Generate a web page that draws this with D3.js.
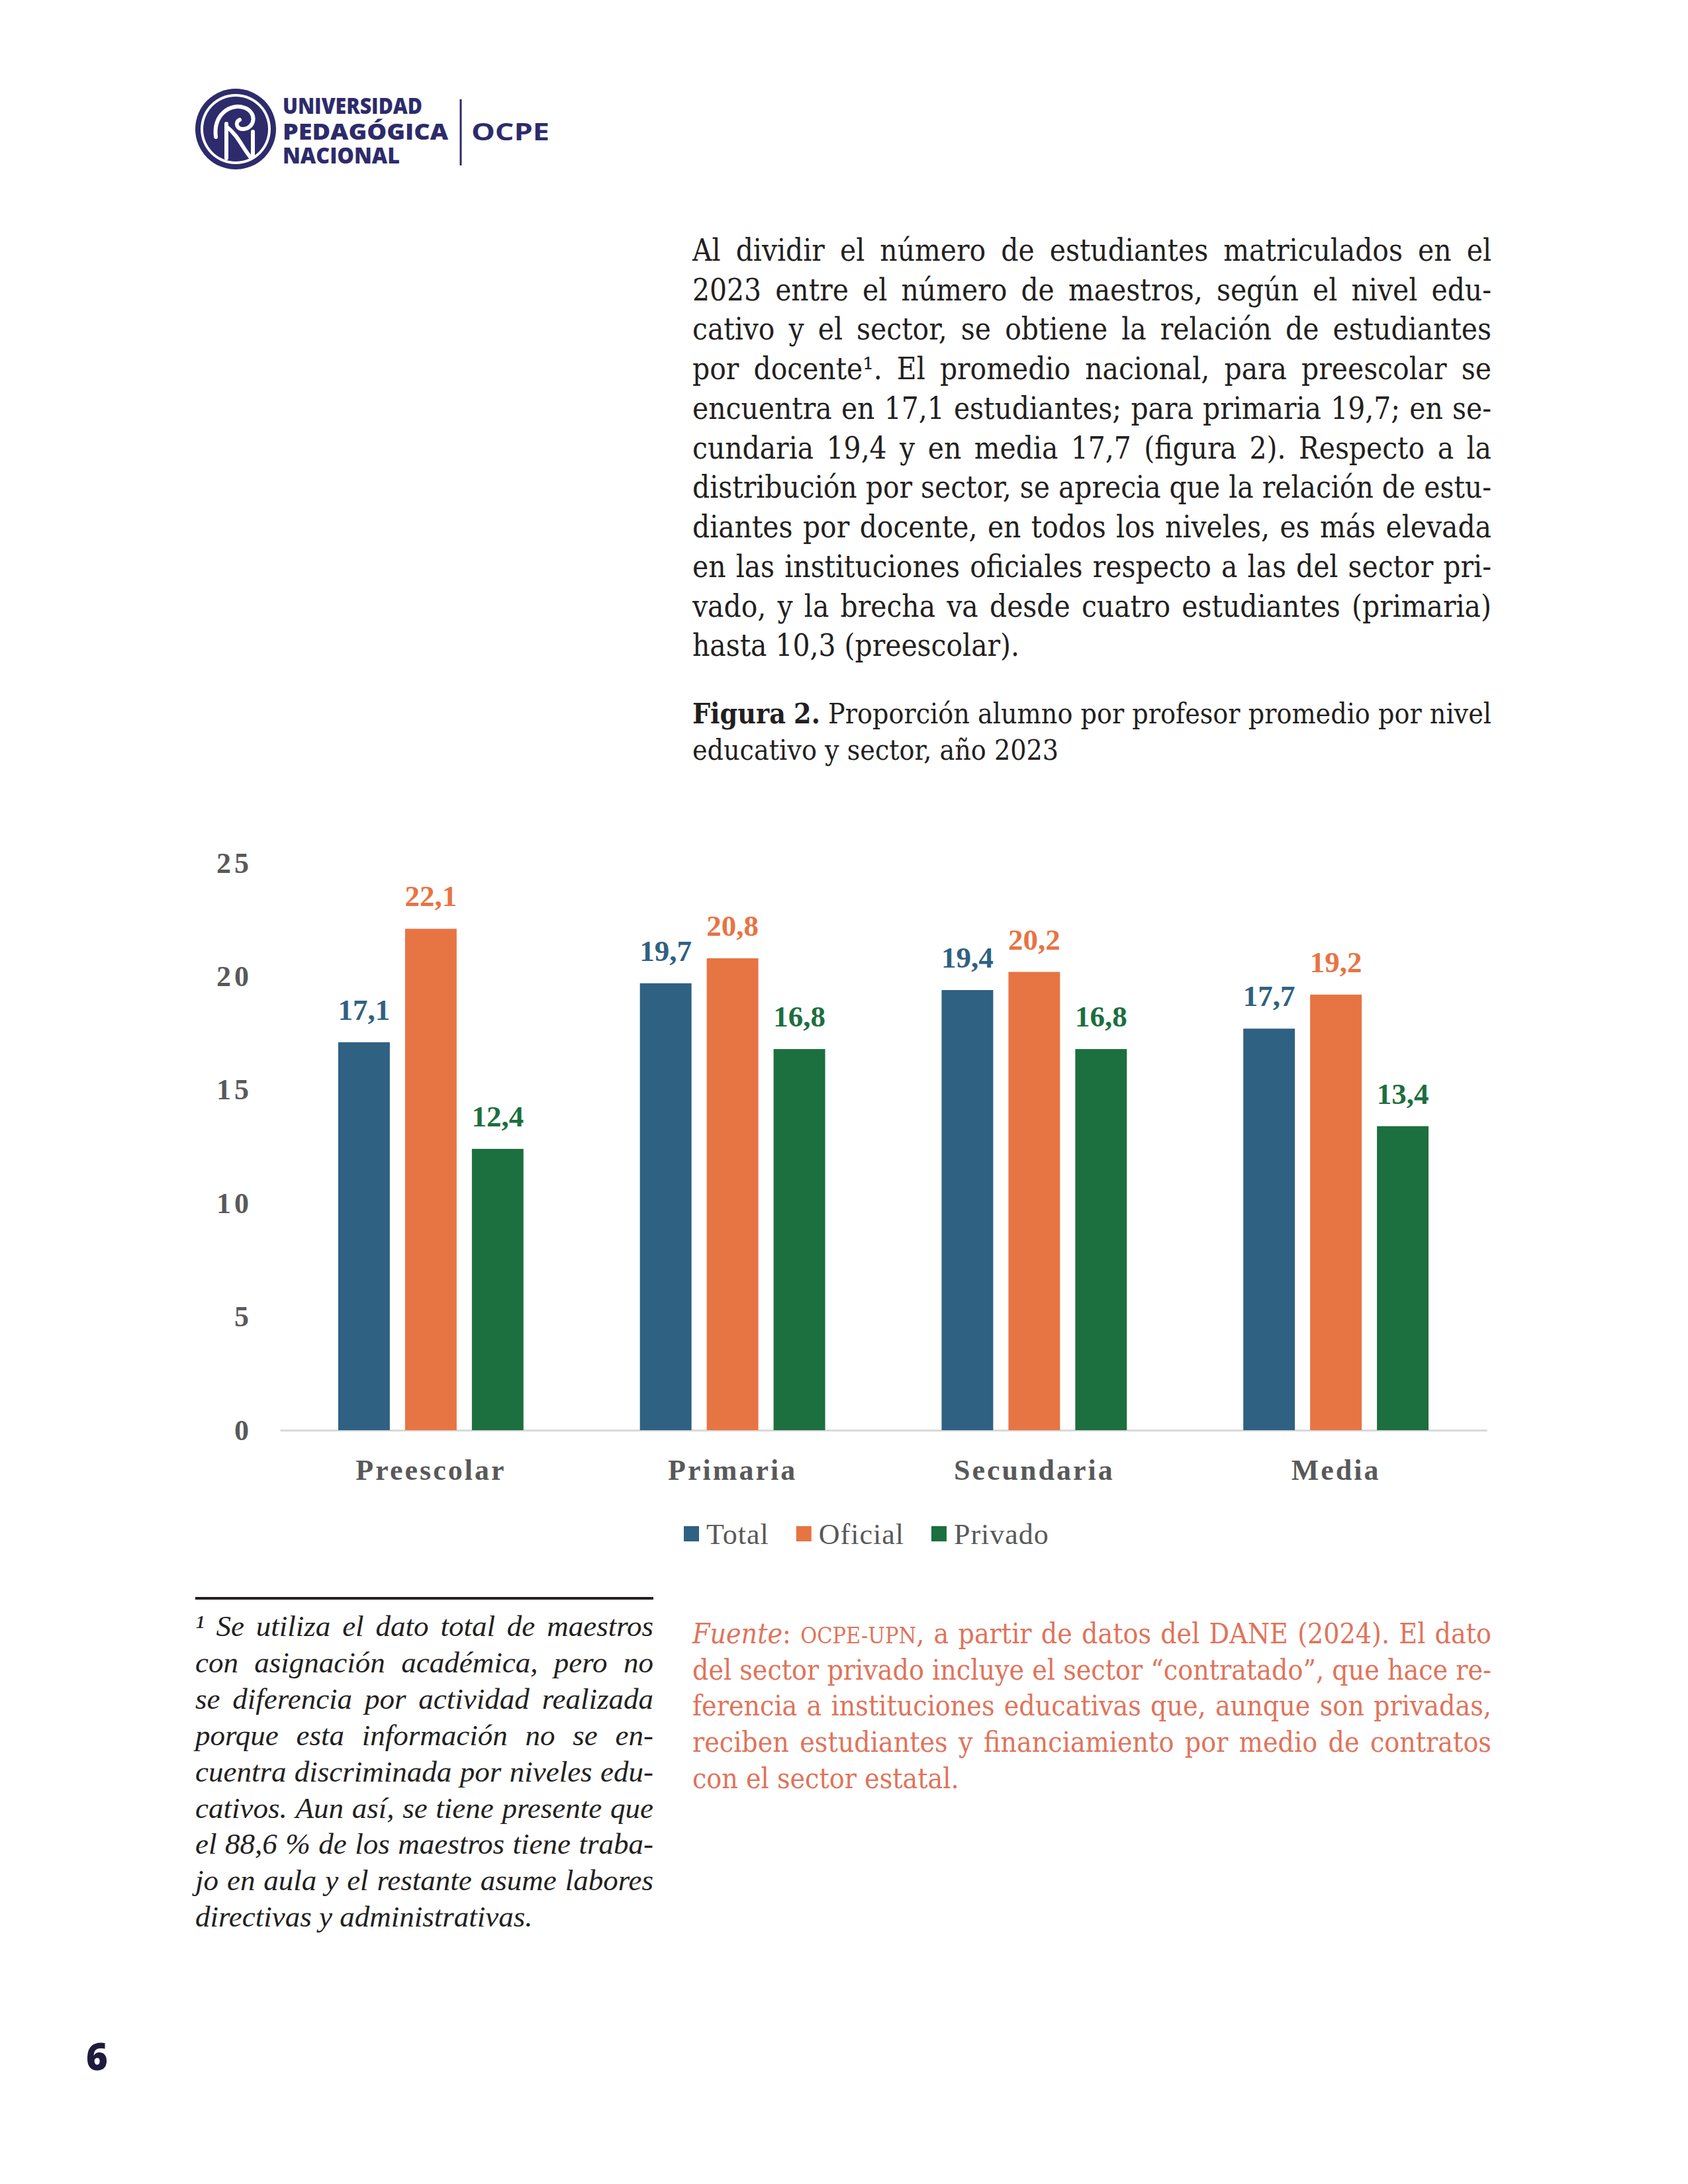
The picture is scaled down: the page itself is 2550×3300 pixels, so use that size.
<!DOCTYPE html>
<html>
<head>
<meta charset="utf-8">
<script src="https://cdn.jsdelivr.net/npm/d3@7"></script>
<style>
html, body { margin: 0; padding: 0; background: #fff; }
svg { display: block; }
</style>
</head>
<body>
<div id="page"></div>
<script>
var levels = ["Preescolar", "Primaria", "Secundaria", "Media"];
var series = ["Total", "Oficial", "Privado"];
var total = [17.1, 19.7, 19.4, 17.7];
var oficial = [22.1, 20.8, 20.2, 19.2];
var privado = [12.4, 16.8, 16.8, 13.4];
var yTicks = [0, 5, 10, 15, 20, 25];

// page text (_ italic, # bold, ^ small caps)
var bodyLines = [
    "Al dividir el número de estudiantes matriculados en el",
    "2023 entre el número de maestros, según el nivel edu-",
    "cativo y el sector, se obtiene la relación de estudiantes",
    "por docente¹. El promedio nacional, para preescolar se",
    "encuentra en 17,1 estudiantes; para primaria 19,7; en se-",
    "cundaria 19,4 y en media 17,7 (figura 2). Respecto a la",
    "distribución por sector, se aprecia que la relación de estu-",
    "diantes por docente, en todos los niveles, es más elevada",
    "en las instituciones oficiales respecto a las del sector pri-",
    "vado, y la brecha va desde cuatro estudiantes (primaria)",
    "hasta 10,3 (preescolar)."
];
var captionLines = [
    "#Figura 2.# Proporción alumno por profesor promedio por nivel",
    "educativo y sector, año 2023"
];
var footLines = [
    "¹ Se utiliza el dato total de maestros",
    "con asignación académica, pero no",
    "se diferencia por actividad realizada",
    "porque esta información no se en-",
    "cuentra discriminada por niveles edu-",
    "cativos. Aun así, se tiene presente que",
    "el 88,6 % de los maestros tiene traba-",
    "jo en aula y el restante asume labores",
    "directivas y administrativas."
];
var sourceLines = [
    "_Fuente_: ^ocpe-upn^, a partir de datos del DANE (2024). El dato",
    "del sector privado incluye el sector “contratado”, que hace re-",
    "ferencia a instituciones educativas que, aunque son privadas,",
    "reciben estudiantes y financiamiento por medio de contratos",
    "con el sector estatal."
];

var svgWidth = 2550;
var svgHeight = 3300;

var svg = d3.select("#page")
    .append("svg")
    .attr("width", svgWidth)
    .attr("height", svgHeight);

svg.append("rect")
    .attr("width", svgWidth)
    .attr("height", svgHeight)
    .attr("fill", "#fff");

var colors = { Total: "#2f6182", Oficial: "#e77443", Privado: "#1c6f3e" };
var navy = "#2d2b6b";
var ink = "#231f20";
var gray = "#595959";
var chartFont = "'Liberation Serif', 'Times New Roman', serif";
var bookFont = "'DejaVu Serif Condensed', 'DejaVu Serif', serif";

// ---------- header logo ----------
var logo = svg.append("g").attr("transform", "translate(356, 195)");
logo.append("circle").attr("r", 61).attr("fill", navy);
logo.append("circle").attr("r", 53).attr("fill", "#fff");
logo.append("circle").attr("r", 49).attr("fill", navy);
logo.append("path")
    .attr("d", "M-30,12 C-34,-22 -8,-40 14,-32 C32,-25 30,-2 12,0 C2,1 -2,-10 6,-14")
    .attr("fill", "none").attr("stroke", "#fff").attr("stroke-width", 6).attr("stroke-linecap", "round");
logo.append("path")
    .attr("d", "M-14,-8 L-14,44 M-14,-4 C4,10 10,28 22,42 M26,4 L26,40")
    .attr("fill", "none").attr("stroke", "#fff").attr("stroke-width", 6).attr("stroke-linecap", "round");

var logoText = [
    { t: "UNIVERSIDAD", y: 172, w: 211 },
    { t: "PEDAGÓGICA", y: 211, w: 250 },
    { t: "NACIONAL", y: 247, w: 177 }
];
logoText.forEach(function(d) {
    svg.append("text")
        .attr("x", 427).attr("y", d.y)
        .attr("font-family", "'Open Sans', sans-serif")
        .attr("font-weight", 800)
        .attr("font-size", 34)
        .attr("fill", navy)
        .attr("textLength", d.w)
        .attr("lengthAdjust", "spacingAndGlyphs")
        .text(d.t);
});
svg.append("line")
    .attr("x1", 696).attr("x2", 696).attr("y1", 150).attr("y2", 250)
    .attr("stroke", navy).attr("stroke-width", 3);
svg.append("text")
    .attr("x", 712).attr("y", 212)
    .attr("font-family", "'Open Sans', sans-serif")
    .attr("font-weight", 700)
    .attr("font-size", 36)
    .attr("fill", navy)
    .attr("textLength", 118)
    .attr("lengthAdjust", "spacingAndGlyphs")
    .text("OCPE");

// ---------- justified text blocks ----------
function parseWords(line, state) {
    var words = [];
    line.split(" ").forEach(function(w) {
        var segs = [], cur = "";
        for (var ch of w) {
            if (ch === "_" || ch === "#" || ch === "^") {
                if (cur) segs.push({ t: cur, i: state.i, b: state.b, sc: state.sc });
                cur = "";
                if (ch === "_") state.i = !state.i;
                if (ch === "#") state.b = !state.b;
                if (ch === "^") state.sc = !state.sc;
            } else {
                cur += ch;
            }
        }
        if (cur) segs.push({ t: cur, i: state.i, b: state.b, sc: state.sc });
        words.push({ segs: segs });
    });
    return words;
}

function textBlock(opt) {
    var g = svg.append("g")
        .attr("transform", `translate(${opt.x}, ${opt.y})`)
        .attr("font-family", opt.family)
        .attr("font-size", opt.size)
        .attr("font-style", opt.italic ? "italic" : "normal")
        .attr("fill", opt.fill)
        .style("font-stretch", opt.stretch || "normal");
    var inner = g.append("g");
    var state = { i: false, b: false, sc: false };
    var rows = opt.lines.map(function(l) { return parseWords(l, state); });

    rows.forEach(function(words, r) {
        words.forEach(function(w) {
            var t = inner.append("text").attr("y", r * opt.lh);
            w.segs.forEach(function(s) {
                var ts = t.append("tspan").text(s.sc ? s.t.toUpperCase() : s.t);
                if (s.i) ts.attr("font-style", "italic");
                if (s.b) ts.attr("font-weight", "bold");
                if (s.sc) ts.attr("font-size", opt.size * 0.8);
            });
            w.node = t;
            w.w = t.node().getComputedTextLength();
        });
    });

    var probe = inner.append("text").text("a a");
    var probe2 = inner.append("text").text("aa");
    var space = probe.node().getComputedTextLength() - probe2.node().getComputedTextLength();
    probe.remove(); probe2.remove();

    // horizontal squeeze so that every full line fits
    var k = 1;
    rows.forEach(function(words, r) {
        if (r === rows.length - 1) return;
        var nat = d3.sum(words, function(d) { return d.w; }) + (words.length - 1) * space;
        k = Math.min(k, opt.width / nat);
    });
    inner.attr("transform", `scale(${k}, 1)`);
    var W = opt.width / k;

    rows.forEach(function(words, r) {
        var sum = d3.sum(words, function(d) { return d.w; });
        var gap = r < rows.length - 1 ? (W - sum) / (words.length - 1) : space;
        var cx = 0;
        words.forEach(function(w) {
            w.node.attr("x", cx);
            cx += w.w + gap;
        });
    });
}

textBlock({ lines: bodyLines, x: 1046, y: 394, width: 1207, lh: 59.75,
    family: bookFont, size: 46, fill: ink, stretch: "condensed" });
textBlock({ lines: captionLines, x: 1046, y: 1093, width: 1207, lh: 55,
    family: bookFont, size: 43, fill: ink, stretch: "condensed" });
textBlock({ lines: footLines, x: 295, y: 2472, width: 692, lh: 54.9,
    family: chartFont, size: 45, fill: ink, italic: true });
textBlock({ lines: sourceLines, x: 1046, y: 2483, width: 1207, lh: 54.7,
    family: bookFont, size: 43, fill: "#e0735a", stretch: "condensed" });

// footnote rule
svg.append("line")
    .attr("x1", 295).attr("x2", 987).attr("y1", 2415).attr("y2", 2415)
    .attr("stroke", ink).attr("stroke-width", 4);

// page number
svg.append("text")
    .attr("x", 130).attr("y", 3128)
    .attr("font-family", "'Open Sans', sans-serif")
    .attr("font-weight", 800)
    .attr("font-size", 56)
    .attr("fill", "#1e1c3c")
    .text("6");

// ---------- chart ----------
var margin = { top: 1304, left: 423 };
var width = 2246 - 423;
var height = 2161 - 1304;

var chartGroup = svg.append("g")
    .attr("transform", `translate(${margin.left}, ${margin.top})`);

var rows = levels.map(function(l, i) {
    return { level: l, values: [
        { key: "Total", v: total[i] },
        { key: "Oficial", v: oficial[i] },
        { key: "Privado", v: privado[i] }
    ] };
});

var x0 = d3.scaleBand().domain(levels).range([0, width]);
var x1 = d3.scaleBand().domain(series)
    .range([x0.bandwidth() * 0.193, x0.bandwidth() * 0.807])
    .paddingInner(0.228);
var yLinearScale = d3.scaleLinear().domain([0, 25]).range([height, 0]);

var es = d3.formatLocale({ decimal: ",", thousands: ".", grouping: [3], currency: ["$", ""] });
var fmt = es.format(".1f");

// y axis: labels only
var yAxis = chartGroup.append("g")
    .call(d3.axisLeft(yLinearScale).tickValues(yTicks).tickSize(0).tickPadding(42).tickFormat(d3.format("d")));
yAxis.select(".domain").remove();
yAxis.attr("font-family", chartFont).attr("font-size", 44);
yAxis.selectAll("text")
    .attr("font-weight", "bold")
    .attr("fill", gray)
    .attr("letter-spacing", 5);

// x axis
var xAxis = chartGroup.append("g")
    .attr("transform", `translate(0, ${height})`)
    .call(d3.axisBottom(x0).tickSize(0).tickSizeOuter(0).tickPadding(44));
xAxis.attr("font-family", chartFont).attr("font-size", 44);
xAxis.select(".domain").attr("stroke", "#d9d9d9").attr("stroke-width", 3);
xAxis.selectAll("text")
    .attr("font-weight", "bold")
    .attr("fill", gray)
    .attr("letter-spacing", 3);

// bars
var groups = chartGroup.selectAll(".level")
    .data(rows)
    .enter()
    .append("g")
    .attr("class", "level")
    .attr("transform", function(d) { return `translate(${x0(d.level)}, 0)`; });

groups.selectAll("rect")
    .data(function(d) { return d.values; })
    .enter()
    .append("rect")
    .attr("x", function(d) { return x1(d.key); })
    .attr("y", function(d) { return yLinearScale(d.v); })
    .attr("width", x1.bandwidth())
    .attr("height", function(d) { return height - yLinearScale(d.v); })
    .attr("fill", function(d) { return colors[d.key]; });

groups.selectAll(".val")
    .data(function(d) { return d.values; })
    .enter()
    .append("text")
    .attr("class", "val")
    .attr("x", function(d) { return x1(d.key) + x1.bandwidth() / 2; })
    .attr("y", function(d) { return yLinearScale(d.v) - 34; })
    .attr("text-anchor", "middle")
    .attr("font-family", chartFont)
    .attr("font-size", 45)
    .attr("font-weight", "bold")
    .attr("fill", function(d) { return colors[d.key]; })
    .text(function(d) { return fmt(d.v); });

// legend
var legend = svg.append("g").attr("transform", "translate(1033, 2306)");
var lx = 0;
series.forEach(function(s) {
    var item = legend.append("g").attr("transform", `translate(${lx}, 0)`);
    item.append("rect").attr("width", 23).attr("height", 23).attr("fill", colors[s]);
    var t = item.append("text")
        .attr("x", 34).attr("y", 27)
        .attr("font-family", chartFont)
        .attr("font-size", 44)
        .attr("fill", gray)
        .attr("letter-spacing", 1)
        .text(s);
    lx += 34 + t.node().getComputedTextLength() + 41;
});
</script>
</body>
</html>
